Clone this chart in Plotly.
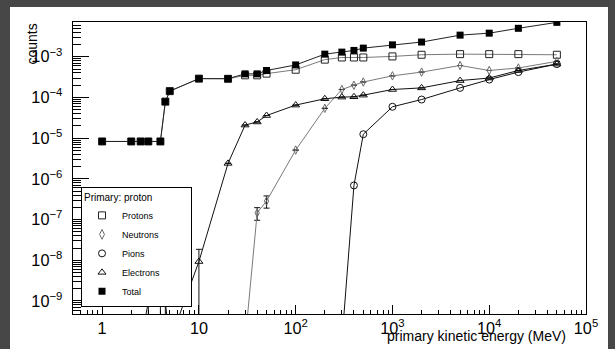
import plotly.graph_objects as go

# ---------------- data ----------------
energy = [1, 2, 2.5, 3, 4, 4.5, 5, 10, 20, 30, 40, 50, 100, 200, 300, 400, 500,
          1000, 2000, 5000, 10000, 20000, 50000]

total = [8.3e-6, 8.3e-6, 8.3e-6, 8.3e-6, 8.3e-6, 7.9e-5, 1.43e-4, 2.9e-4, 2.9e-4,
         3.8e-4, 3.8e-4, 4.6e-4, 6.3e-4, 1.16e-3, 1.3e-3, 1.43e-3, 1.63e-3,
         1.96e-3, 2.3e-3, 3.4e-3, 3.8e-3, 5.0e-3, 7.0e-3]

protons = [8.3e-6, 8.3e-6, 8.3e-6, 8.3e-6, 8.3e-6, 7.9e-5, 1.43e-4, 2.9e-4, 2.87e-4,
           3.5e-4, 3.5e-4, 3.85e-4, 4.8e-4, 8.5e-4, 9.6e-4, 9.6e-4, 9.6e-4,
           1.02e-3, 1.12e-3, 1.16e-3, 1.16e-3, 1.16e-3, 1.12e-3]

neutrons = [0, 0, 0, 0, 0, 0, 0, 0, 0, 0, 1.46e-7, 2.86e-7, 5.1e-6, 5.4e-5,
            1.57e-4, 2.0e-4, 2.4e-4, 3.4e-4, 4.2e-4, 6.1e-4, 4.6e-4, 5.3e-4, 7.7e-4]
neutrons_err = [0, 0, 0, 0, 0, 0, 0, 0, 0, 0, 0.5e-7, 0.95e-7, 0, 0,
                0, 0, 0, 0, 0, 0, 0, 0, 0]

pions = [0, 0, 0, 0, 0, 0, 0, 0, 0, 0, 0, 0, 0, 0, 0, 6.9e-7, 1.25e-5,
         5.9e-5, 8.9e-5, 1.72e-4, 2.75e-4, 4.2e-4, 6.6e-4]

electrons = [0, 0, 0, 9.3e-10, 9.3e-10, 9.3e-10, 0, 9.3e-9, 2.4e-6, 2.1e-5, 2.5e-5,
             3.6e-5, 6.5e-5, 9.3e-5, 1.02e-4, 1.04e-4, 1.14e-4, 1.57e-4, 1.72e-4,
             2.6e-4, 3.0e-4, 4.6e-4, 6.6e-4]
electrons_err = [0, 0, 0, 9.3e-10, 9.3e-10, 9.3e-10, 0, 9.3e-9, 0, 0, 0,
                 0, 0, 0, 0, 0, 0, 0, 0, 0, 0, 0, 0]

legend_title = "Primary: proton"
x_title = "primary kinetic energy (MeV)"
y_title = "counts"

# zero counts are drawn at a floor below the visible range (as on a log pad)
FLOOR = 1e-10


def to_plot(vals):
    return [v if v > 0 else FLOOR for v in vals]


def err_minus(vals, errs):
    # error bars reaching zero are clipped just above zero
    return [min(e, 0.999 * v) if v > 0 else 0 for v, e in zip(vals, errs)]


FONT = "Liberation Sans, Arial, Helvetica, sans-serif"

fig = go.Figure()

series = [
    ("Protons", protons, None, dict(symbol="square-open", size=7, color="#222",
                                    line=dict(width=1, color="#222")), "#7a7a7a"),
    ("Neutrons", neutrons, neutrons_err, dict(symbol="diamond-tall-open", size=6, color="#6a6a6a",
                                              line=dict(width=1, color="#6a6a6a")), "#7a7a7a"),
    ("Pions", pions, None, dict(symbol="circle-open", size=7, color="#111",
                                line=dict(width=1, color="#111")), "#111"),
    ("Electrons", electrons, electrons_err, dict(symbol="triangle-up-open", size=7, color="#111",
                                                 line=dict(width=1, color="#111")), "#111"),
    ("Total", total, None, dict(symbol="square", size=7, color="#000",
                                line=dict(width=0, color="#000")), "#222"),
]

for name, vals, errs, marker, lcolor in series:
    tr = dict(
        x=energy, y=to_plot(vals), mode="lines+markers", name=name,
        line=dict(color=lcolor, width=1), marker=marker, showlegend=False,
    )
    if errs is not None:
        tr["error_y"] = dict(type="data", symmetric=False, array=errs,
                             arrayminus=err_minus(vals, errs),
                             color="#111", thickness=1, width=3)
    fig.add_trace(go.Scatter(**tr))

# legend entries (markers only, like ROOT "P" option)
for name, vals, errs, marker, lcolor in series:
    lm = dict(marker)
    lm["size"] = 7
    fig.add_trace(go.Scatter(x=[None], y=[None], mode="markers", name=name,
                             marker=lm, showlegend=True))

L, R, T, B = 73, 29, 22, 33
W, H = 615, 349
pw, ph = W - L - R, H - T - B


def px_x(x):
    return (x - L) / pw


def px_y(y):
    return (H - B - y) / ph


axis_common = dict(
    type="log", showgrid=False, zeroline=False,
    showline=True, linecolor="black", linewidth=1, mirror=True,
    ticks="inside", tickcolor="black", tickwidth=1,
    dtick=1, exponentformat="power",
    tickfont=dict(family=FONT, size=13, color="black"),
)

fig.update_layout(
    width=W, height=H,
    margin=dict(l=L, r=R, t=T, b=B, pad=0),
    paper_bgcolor="#474747",
    plot_bgcolor="white",
    showlegend=True,
    xaxis=dict(axis_common, range=[-0.30103, 5], ticklen=9,
               minor=dict(ticks="inside", ticklen=4.5, dtick="D1", tickcolor="black",
                          tickwidth=1, showgrid=False)),
    yaxis=dict(axis_common, range=[-9.32, -2.146], ticklen=16, ticklabelstandoff=7,
               minor=dict(ticks="inside", ticklen=8, dtick="D1", tickcolor="black",
                          tickwidth=1, showgrid=False)),
    legend=dict(
        x=px_x(81), y=px_y(188), xanchor="left", yanchor="top",
        bgcolor="white", bordercolor="black", borderwidth=1,
        font=dict(family=FONT, size=9, color="black"),
        title=dict(text=legend_title + "\u00a0" * 13,
                   font=dict(family=FONT, size=10, color="black")),
        tracegroupgap=0,
    ),
    shapes=[dict(type="rect", xref="paper", yref="paper",
                 x0=px_x(10), x1=px_x(608), y0=px_y(360), y1=px_y(7),
                 fillcolor="white", line=dict(width=0), layer="below")],
    annotations=[
        dict(text=x_title, xref="paper", yref="paper", x=px_x(568), y=px_y(338),
             xanchor="right", yanchor="middle", showarrow=False,
             font=dict(family=FONT, size=14, color="black")),
        dict(text=y_title, xref="paper", yref="paper", x=px_x(31), y=1.0,
             xanchor="center", yanchor="top", textangle=-90, showarrow=False,
             font=dict(family=FONT, size=14, color="black")),
    ],
)

fig.write_html("out.html")
